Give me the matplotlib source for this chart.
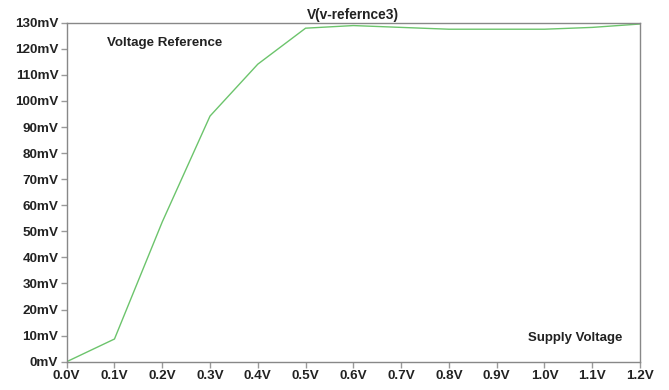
import matplotlib
matplotlib.use("Agg")
import matplotlib.pyplot as plt

supply_v = [0.0, 0.1, 0.2, 0.3, 0.4, 0.5, 0.6, 0.7, 0.8, 0.9, 1.0, 1.1, 1.2]
vref_mv = [0.0, 8.7, 53.6, 94.2, 114.1, 127.9, 128.9, 128.2, 127.5, 127.5, 127.5, 128.2, 129.5]
xticks = [0.0, 0.1, 0.2, 0.3, 0.4, 0.5, 0.6, 0.7, 0.8, 0.9, 1.0, 1.1, 1.2]
yticks = list(range(0, 131, 10))

plt.rcParams['font.family'] = ['Liberation Sans', 'DejaVu Sans']
fig = plt.figure(figsize=(6.69, 3.90), dpi=100)
ax = fig.add_axes([66.7/669, 1 - 361.7/390, (640 - 66.7)/669, (361.7 - 22.7)/390])
ax.plot(supply_v, vref_mv, color='#6cc46c', lw=1.0)
ax.set_xlim(0, 1.2)
ax.set_ylim(0, 130)
ax.set_xticks(xticks)
ax.set_xticklabels([f"{v:.1f}V" for v in xticks])
ax.set_yticks(yticks)
ax.set_yticklabels([f"{v}mV" for v in yticks])
for s in ax.spines.values():
    s.set_color('#888888')
    s.set_linewidth(1.0)
ax.tick_params(axis='both', direction='out', length=4, color='#999999', width=1,
               labelsize=9.7, pad=2)
for lab in ax.get_xticklabels() + ax.get_yticklabels():
    lab.set_fontweight('bold')
    lab.set_color('#222222')
ax.set_title('V(v-refernce3)', fontsize=9.9, fontweight='bold', color='#222222', pad=3)
ax.text(0.071, 0.94, 'Voltage Reference', transform=ax.transAxes, fontsize=9.6,
        fontweight='bold', color='#222222', ha='left', va='center')
ax.text(0.97, 0.07, 'Supply Voltage', transform=ax.transAxes, fontsize=9.5,
        fontweight='bold', color='#222222', ha='right', va='center')
fig.savefig('out.png', dpi=100)
